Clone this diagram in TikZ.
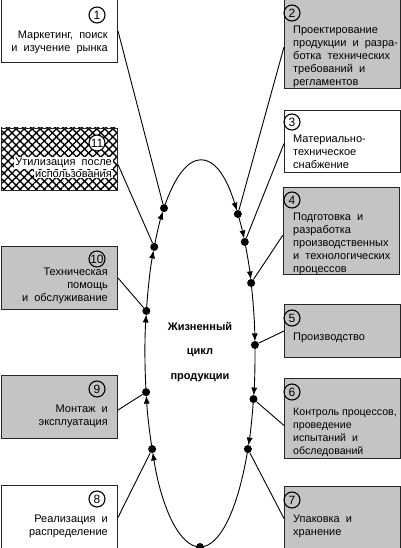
\documentclass[tikz,border=0pt]{standalone}
\usepackage{fontspec}
\setmainfont{Liberation Sans}
\usetikzlibrary{arrows.meta,patterns.meta,positioning}
\definecolor{boxgray}{RGB}{196,196,196}
\tikzset{
  stage/.style={draw=black!85,line width=1pt,anchor=north west,
    minimum width=116pt,inner sep=0pt},
  num/.style={circle,draw=black,line width=1.1pt,minimum size=16pt,
    inner sep=0pt,font=\fontsize{12}{12}\selectfont},
  txt/.style={inner sep=0pt,font=\fontsize{11}{13}\selectfont},
  dot/.style={circle,fill=black,minimum size=8pt,inner sep=0pt},
  cyc/.style={line width=0.9pt,-{Latex[length=8pt,width=6pt]},shorten >=3.5pt},
  link/.style={line width=0.9pt},
}
\begin{document}
\begin{tikzpicture}[x=1pt,y=-1pt]
  \useasboundingbox (0,0) rectangle (400,548);
  % left column of stages
  \node[stage,minimum height=63pt] (b1) at (1,-1) {};
  \node[num] (n1) at (97,15) {1};
  \node[txt,anchor=north east,align=right] (t1) at (108,31)
    {Маркетинг,\ \ поиск\\и\ \ изучение\ \ рынка};
  \path[pattern={Lines[angle=45,distance=5.7pt,line width=1.4pt]}]
    (1,128) rectangle (117,190);
  \path[pattern={Lines[angle=-45,distance=5.7pt,line width=1.4pt]}]
    (1,128) rectangle (117,190);
  \node[stage,minimum height=62pt] (b11) at (1,128) {};
  \node[num,fill=white] (n11) at (97,143) {11};
  \node[txt,fill=white,inner sep=1pt,anchor=north east] (t11a) at (113,157)
    {Утилизация\ \ после};
  \node[txt,fill=white,inner sep=1pt,anchor=north east] (t11b) at (113,170)
    {использования};
  \node[stage,fill=boxgray,minimum height=63pt] (b10) at (1,246) {};
  \node[num] (n10) at (97,259) {10};
  \node[txt,anchor=north east,align=right] (t10) at (108,268)
    {Техническая\\помощь\\и\ \ обслуживание};
  \node[stage,fill=boxgray,minimum height=63pt] (b9) at (1,375) {};
  \node[num] (n9) at (97,389) {9};
  \node[txt,anchor=north east,align=right] (t9) at (108,405)
    {Монтаж\ \ и\\эксплуатация};
  \node[stage,minimum height=64pt] (b8) at (1,485) {};
  \node[num] (n8) at (97,499) {8};
  \node[txt,anchor=north east,align=right] (t8) at (108,515)
    {Реализация\ \ и\\распределение};
  % right column of stages
  \node[stage,fill=boxgray,minimum height=89pt] (b2) at (284,-1) {};
  \node[num] (n2) at (292,13) {2};
  \node[txt,anchor=north west,align=left] (t2) at (293,26)
    {Проектирование\\продукции\ \ и\ \ разра-\\ботка\ \ технических\\требований\ \ и\\регламентов};
  \node[stage,minimum height=62pt] (b3) at (284,110) {};
  \node[num] (n3) at (292,122) {3};
  \node[txt,anchor=north west,align=left] (t3) at (293,135)
    {Материально-\\техническое\\снабжение};
  \node[stage,fill=boxgray,minimum height=87pt] (b4) at (283,187) {};
  \node[num] (n4) at (292,200) {4};
  \node[txt,anchor=north west,align=left] (t4) at (293,213)
    {Подготовка\ \ и\\разработка\\производственных\\и\ \ технологических\\процессов};
  \node[stage,fill=boxgray,minimum height=53pt] (b5) at (284,304) {};
  \node[num] (n5) at (292,318) {5};
  \node[txt,anchor=north west,align=left] (t5) at (293,333) {Производство};
  \node[stage,fill=boxgray,minimum height=80pt] (b6) at (284,378) {};
  \node[num] (n6) at (292,392) {6};
  \node[txt,anchor=north west,align=left,font=\fontsize{10.6}{13}\selectfont]
    (t6) at (293,408)
    {Контроль процессов,\\проведение\\испытаний\ \ и\\обследований};
  \node[stage,fill=boxgray,minimum height=64pt] (b7) at (284,486) {};
  \node[num] (n7) at (292,500) {7};
  \node[txt,anchor=north west,align=left] (t7) at (293,515)
    {Упаковка\ \ и\\хранение};
  % centre label
  \node[txt,align=center,font=\bfseries\fontsize{11}{24.5}\selectfont]
    (life) at (200,352) {Жизненный\\цикл\\продукции};
  % points on the cycle
  \node[dot] (d1) at ([shift={(200,354)}]229.1:55 and 193) {};
  \node[dot] (d2) at ([shift={(200,354)}]313.5:55 and 193) {};
  \node[dot] (d3) at ([shift={(200,354)}]324.5:55 and 193) {};
  \node[dot] (d4) at ([shift={(200,354)}]338.4:55 and 193) {};
  \node[dot] (d5) at ([shift={(200,354)}]357.3:55 and 193) {};
  \node[dot] (d6) at ([shift={(200,354)}]373.5:55 and 193) {};
  \node[dot] (d7) at ([shift={(200,354)}]389.5:55 and 193) {};
  \node[dot] (db) at ([shift={(200,354)}]450:55 and 193) {};
  \node[dot] (d8) at ([shift={(200,354)}]510.5:55 and 193) {};
  \node[dot] (d9) at ([shift={(200,354)}]528.6:55 and 193) {};
  \node[dot] (d10) at ([shift={(200,354)}]552.9:55 and 193) {};
  \node[dot] (d11) at ([shift={(200,354)}]573.7:55 and 193) {};
  % the cycle itself
  \draw[cyc] (d1.center) arc[start angle=229.1,end angle=313.5,x radius=55,y radius=193];
  \draw[cyc] (d2.center) arc[start angle=313.5,end angle=324.5,x radius=55,y radius=193];
  \draw[cyc] (d3.center) arc[start angle=324.5,end angle=338.4,x radius=55,y radius=193];
  \draw[cyc] (d4.center) arc[start angle=338.4,end angle=357.3,x radius=55,y radius=193];
  \draw[cyc] (d5.center) arc[start angle=357.3,end angle=373.5,x radius=55,y radius=193];
  \draw[cyc] (d6.center) arc[start angle=373.5,end angle=389.5,x radius=55,y radius=193];
  \draw[link] (d7.center) arc[start angle=389.5,end angle=450,x radius=55,y radius=193];
  \draw[cyc] (db.center) arc[start angle=450,end angle=510.5,x radius=55,y radius=193];
  \draw[cyc] (d8.center) arc[start angle=510.5,end angle=528.6,x radius=55,y radius=193];
  \draw[cyc] (d9.center) arc[start angle=528.6,end angle=552.9,x radius=55,y radius=193];
  \draw[cyc] (d10.center) arc[start angle=552.9,end angle=573.7,x radius=55,y radius=193];
  \draw[cyc] (d11.center) arc[start angle=573.7,end angle=589.1,x radius=55,y radius=193];
  % links from stages to the cycle
  \draw[link] (b1.east) -- (d1);
  \draw[link] ([yshift=-5pt]b11.east) -- (d11);
  \draw[link] (b10.east) -- (d10);
  \draw[link] ([yshift=-3pt]b9.east) -- (d9);
  \draw[link] (b8.east) -- (d8);
  \draw[link] ([yshift=-3pt]b2.west) -- (d2);
  \draw[link] ([yshift=-2pt]b3.west) -- (d3);
  \draw[link] ([yshift=-4pt]b4.west) -- (d4);
  \draw[link] (b5.west) -- (d5);
  \draw[link] ([yshift=-7pt]b6.west) -- (d6);
  \draw[link] (b7.west) -- (d7);
\end{tikzpicture}
\end{document}
